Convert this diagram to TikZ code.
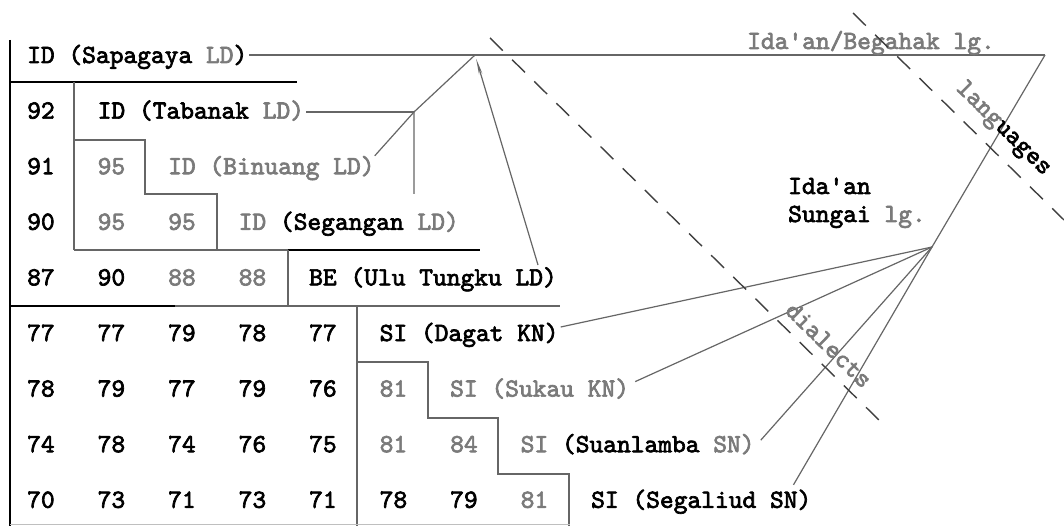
\documentclass[tikz,border=0pt]{standalone}
\usepackage{fontspec}
\setmonofont{lmmono10-regular.otf}[FakeBold=2.6]
\usetikzlibrary{arrows.meta,calc}
\definecolor{tg}{gray}{0.48}
\definecolor{lg}{gray}{0.40}
\begin{document}
\begin{tikzpicture}[x=1pt,y=-1pt,
  lab/.style={anchor=base west,inner sep=0pt,font=\ttfamily\fontsize{26.2}{28}\selectfont},
  glab/.style={lab,text=tg},
  gline/.style={draw=lg,line width=1.1pt},
  bline/.style={draw=black,line width=1.8pt},
  tline/.style={draw=lg,line width=1.2pt},
  dline/.style={draw=black!75,line width=1.4pt,dash pattern=on 18pt off 13pt}]
\useasboundingbox[fill=white] (0,0) rectangle (1064,526);
% ---------- rows ----------
\node[lab] (sap) at (27,63) {ID (Sapagaya \textcolor{tg}{LD})};
\node[lab] (r1c1) at (27,118.6) {92};
\node[lab] (tab) at (97.5,118.6) {ID (Tabanak \textcolor{tg}{LD)}};
\node[lab] (r2c1) at (27,174.2) {91};
\node[glab] (r2c2) at (97.5,174.2) {95};
\node[glab] (bin) at (168,174.2) {ID (Binuang LD)};
\node[lab] (r3c1) at (27,229.8) {90};
\node[glab] (r3c2) at (97.5,229.8) {95};
\node[glab] (r3c3) at (168,229.8) {95};
\node[lab] (seg) at (238.5,229.8) {\textcolor{tg}{ID} (Segangan \textcolor{tg}{LD)}};
\node[lab] (r4c1) at (27,285.4) {87};
\node[lab] (r4c2) at (97.5,285.4) {90};
\node[glab] (r4c3) at (168,285.4) {88};
\node[glab] (r4c4) at (238.5,285.4) {88};
\node[lab] (ulu) at (309,285.4) {BE (Ulu Tungku LD)};
\node[lab] (r5c1) at (27,341) {77};
\node[lab] (r5c2) at (97.5,341) {77};
\node[lab] (r5c3) at (168,341) {79};
\node[lab] (r5c4) at (238.5,341) {78};
\node[lab] (r5c5) at (309,341) {77};
\node[lab] (dag) at (379.5,341) {SI (Dagat KN)};
\node[lab] (r6c1) at (27,396.6) {78};
\node[lab] (r6c2) at (97.5,396.6) {79};
\node[lab] (r6c3) at (168,396.6) {77};
\node[lab] (r6c4) at (238.5,396.6) {79};
\node[lab] (r6c5) at (309,396.6) {76};
\node[glab] (r6c6) at (379.5,396.6) {81};
\node[glab] (suk) at (450,396.6) {SI (Sukau KN)};
\node[lab] (r7c1) at (27,452.2) {74};
\node[lab] (r7c2) at (97.5,452.2) {78};
\node[lab] (r7c3) at (168,452.2) {74};
\node[lab] (r7c4) at (238.5,452.2) {76};
\node[lab] (r7c5) at (309,452.2) {75};
\node[glab] (r7c6) at (379.5,452.2) {81};
\node[glab] (r7c7) at (450,452.2) {84};
\node[lab] (sua) at (520.5,452.2) {\textcolor{tg}{SI} (Suanlamba \textcolor{tg}{SN)}};
\node[lab] (r8c1) at (27,507.8) {70};
\node[lab] (r8c2) at (97.5,507.8) {73};
\node[lab] (r8c3) at (168,507.8) {71};
\node[lab] (r8c4) at (238.5,507.8) {73};
\node[lab] (r8c5) at (309,507.8) {71};
\node[lab] (r8c6) at (379.5,507.8) {78};
\node[lab] (r8c7) at (450,507.8) {79};
\node[glab] (r8c8) at (520.5,507.8) {81};
\node[lab] (sgl) at (591,507.8) {SI (Segaliud SN)};
% ---------- table rules ----------
\draw[bline] (10,40) -- (10,526);
\draw[bline] (10,82) -- (297,82);
\draw[gline] (74,82) -- (74,250);
\draw[gline] (74,140) -- (145,140) -- (145,194) -- (217,194) -- (217,250);
\draw[gline] (74,250) -- (288,250);
\draw[bline] (288,250) -- (480,250);
\draw[gline] (288,250) -- (288,306);
\draw[bline] (10,306) -- (175,306);
\draw[gline] (175,306) -- (560,306);
\draw[gline] (357,306) -- (357,526);
\draw[gline] (357,362) -- (428,362) -- (428,418) -- (498,418) -- (498,474) -- (569,474) -- (569,526);
\draw[draw=black!25,line width=0.8pt] (10,524) -- (570,524);
% ---------- tree ----------
\coordinate (A) at (475,55);
\coordinate (J) at (414,112);
\coordinate (B) at (1045,55);
\coordinate (C) at (932,247);
\coordinate (segtop) at (414,194);
\coordinate (uluE) at (538,265);
\draw[tline,shorten <=2pt] (sap.east |- A) -- (A) -- (B);
\draw[tline,shorten <=2pt] (tab.east |- J) -- (J);
\draw[tline] (bin.north east) -- (J);
\draw[tline] (segtop) -- (J) -- (A);
\draw[tline,-{Stealth[length=16pt,width=3.5pt]},shorten >=4pt] (uluE) -- (A);
\draw[tline] (B) -- (C);
\draw[tline] (C) -- ($(dag.base east)+(2,-14)$);
\draw[tline] (C) -- ($(suk.base east)+(6,-15)$);
\draw[tline] (C) -- ($(sua.base east)+(6,-12)$);
\draw[tline] (C) -- ($(sgl.base east)+(-18,-23)$);
% ---------- labels ----------
\node[glab] (bega) at (747,49) {Ida'an/Begahak lg.};
\node[lab] (sung1) at (788,194) {Ida'an};
\node[lab] (sung2) at (788,222) {Sungai \textcolor{tg}{lg.}};
% ---------- boundaries ----------
\draw[dline] (490,38) -- (882,423);
\draw[dline] (853,13) -- (1064,220);
\node[lab,anchor=center,text=tg,rotate=-44.5] (dia) at (829,345) {dialects};
\node[lab,anchor=center,rotate=-44.5] (lang) at (1003,129) {\textcolor{tg}{lang}uages};
\end{tikzpicture}
\end{document}
